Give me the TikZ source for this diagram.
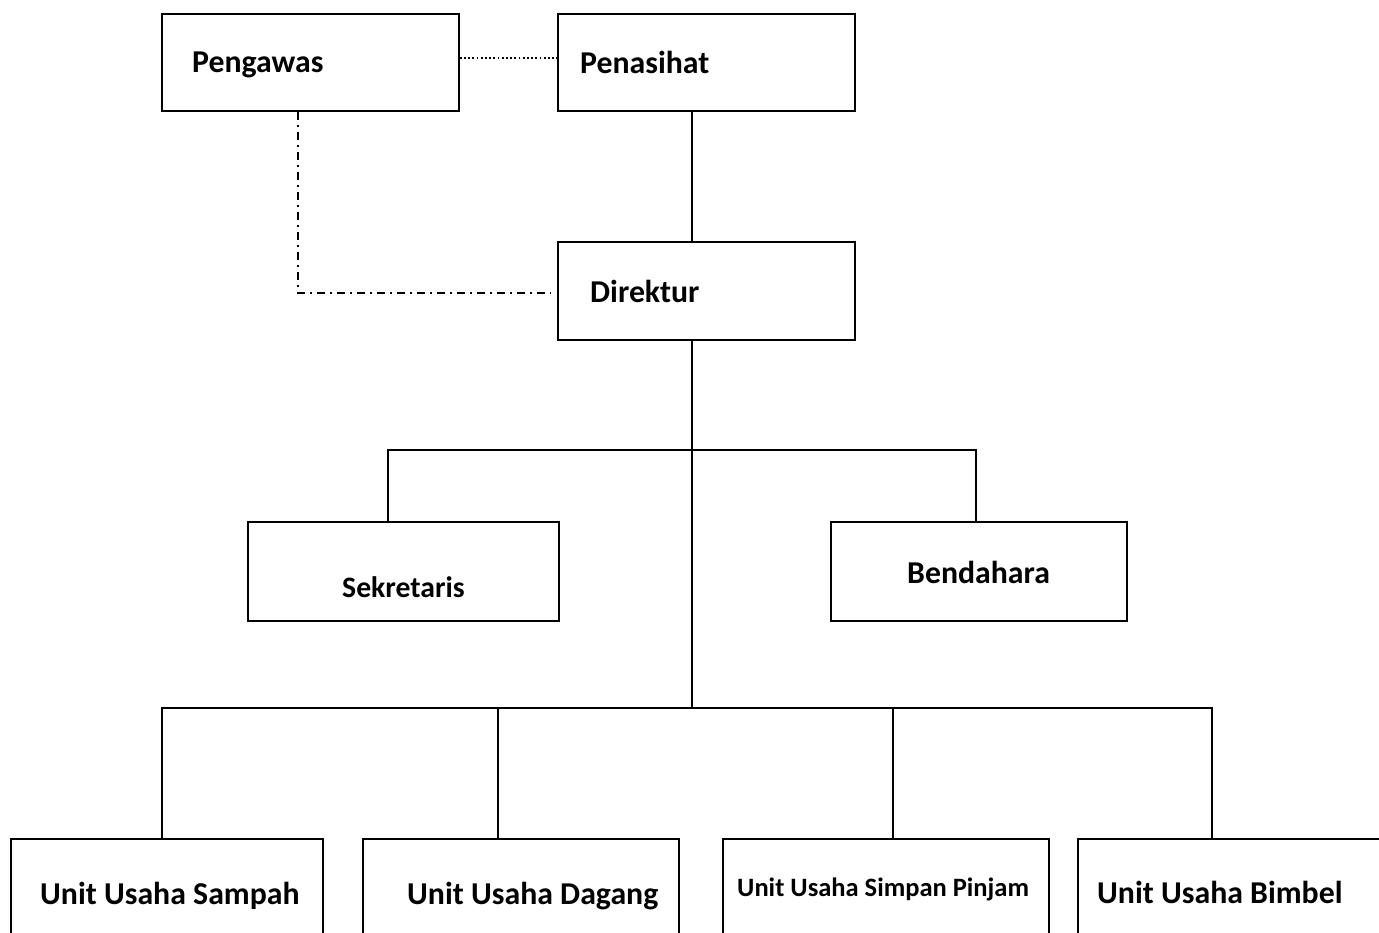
\documentclass[tikz,border=0pt]{standalone}
\usepackage{fontspec}
\setmainfont{Carlito}
\usetikzlibrary{positioning}

\begin{document}
\begin{tikzpicture}[x=1pt,y=-1pt,
        box/.style={draw,line width=1.8pt,rectangle,inner sep=0pt,anchor=north west},
        lbl/.style={font=\bfseries\fontsize{#1}{#1}\selectfont,inner sep=0pt,anchor=base west},
        lbl/.default=31.8,
        link/.style={line width=1.6pt},
        dotline/.style={line width=1.8pt,dash pattern=on 1.8pt off 2.4pt},
        dashdotline/.style={line width=1.6pt,dash pattern=on 8pt off 5pt on 2pt off 5pt}]
        \useasboundingbox (0,0) rectangle (1379,932);
        \clip (0,0) rectangle (1379,932);
        % boxes
        \node[box,minimum width=297,minimum height=97] (pengawas)   at (161,13)  {};
        \node[box,minimum width=297,minimum height=97] (penasihat)  at (557,13)  {};
        \node[box,minimum width=297,minimum height=98] (direktur)   at (557,241) {};
        \node[box,minimum width=311,minimum height=99] (sekretaris) at (247,521) {};
        \node[box,minimum width=296,minimum height=99] (bendahara)  at (830,521) {};
        \node[box,minimum width=312,minimum height=130] (sampah)    at (10,838)  {};
        \node[box,minimum width=316,minimum height=130] (dagang)    at (362,838) {};
        \node[box,minimum width=326,minimum height=130] (simpan)    at (722,838) {};
        \node[box,minimum width=320,minimum height=130] (bimbel)    at (1077,838) {};
        % texts
        \node[lbl] (tpengawas)   at (192,72)  {Pengawas};
        \node[lbl] (tpenasihat)  at (580,73)  {Penasihat};
        \node[lbl] (tdirektur)   at (590,302) {Direktur};
        \node[lbl=29.7] (tsekretaris) at (342,597) {Sekretaris};
        \node[lbl] (tbendahara)  at (907,583) {Bendahara};
        \node[lbl] (tsampah)     at (40,904)  {Unit Usaha Sampah};
        \node[lbl] (tdagang)     at (407,904) {Unit Usaha Dagang};
        \node[lbl=26.5] (tsimpan)  at (737,896) {Unit Usaha Simpan Pinjam};
        \node[lbl] (tbimbel)     at (1097,903) {Unit Usaha Bimbel};
        % joints
        \coordinate (spine) at (692,450);   % top bar
        \coordinate (base)  at (692,708);   % bottom bar
        \coordinate (sekj)  at (388,450);
        \coordinate (benj)  at (976,450);
        \coordinate (samj)  at (162,708);
        \coordinate (dagj)  at (498,708);
        \coordinate (simj)  at (893,708);
        \coordinate (bimj)  at (1212,708);
        \coordinate (pgwj)  at (298,110);
        % lines
        \draw[dotline] (pengawas.east |- 0,58) -- (penasihat.west |- 0,58);
        \draw[dashdotline,shorten >=6pt] (pgwj |- pengawas.south) |- (direktur.west |- 0,293);
        \draw[link] (spine |- penasihat.south) -- (spine |- direktur.north);
        \draw[link] (spine |- direktur.south) -- (base);
        \draw[link] (sekj |- sekretaris.north) -- (sekj) -- (benj) -- (benj |- bendahara.north);
        \draw[link] (samj |- sampah.north) -- (samj) -- (bimj) -- (bimj |- bimbel.north);
        \draw[link] (dagj) -- (dagj |- dagang.north);
        \draw[link] (simj) -- (simj |- simpan.north);
\end{tikzpicture}
\end{document}
